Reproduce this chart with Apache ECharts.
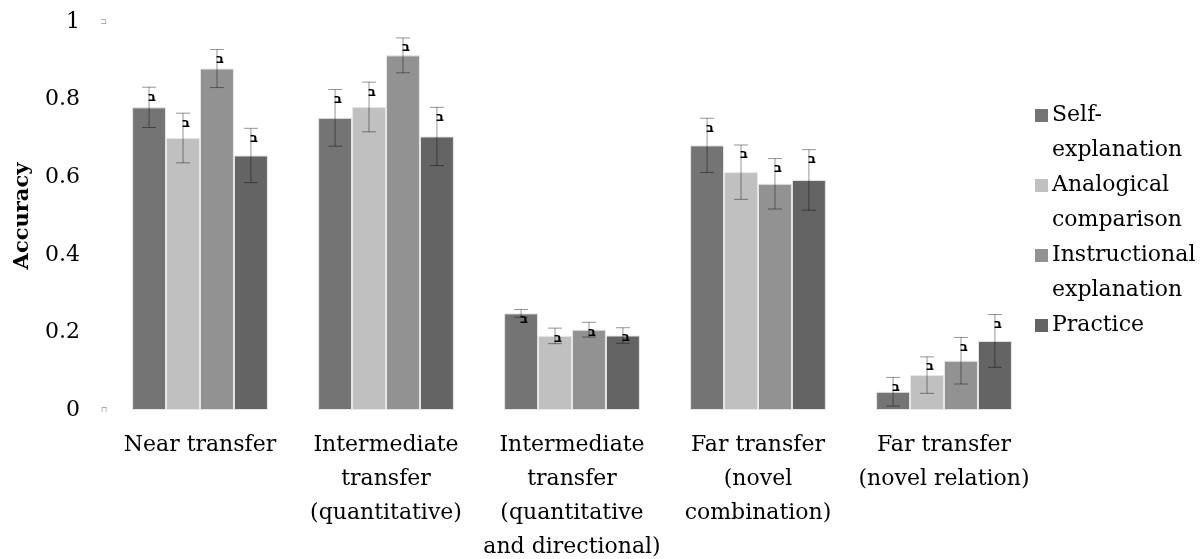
<!DOCTYPE html>
<html>
<head>
<meta charset="utf-8">
<script src="https://cdn.jsdelivr.net/npm/echarts@6/dist/echarts.min.js"></script>
<style>html,body{margin:0;padding:0;background:#fff;}#c{width:1202px;height:559px;}</style>
</head>
<body>
<div id="c"></div>
<script>
const categories = ['Near transfer', 'Intermediate\ntransfer\n(quantitative)', 'Intermediate\ntransfer\n(quantitative\nand directional)', 'Far transfer\n(novel\ncombination)', 'Far transfer\n(novel relation)'];
const seriesNames = ['Self-explanation', 'Analogical comparison', 'Instructional explanation', 'Practice'];
const legendLabels = ['Self-\nexplanation', 'Analogical\ncomparison', 'Instructional\nexplanation', 'Practice'];
const selfExplanation = [0.780, 0.753, 0.249, 0.682, 0.047];
const selfExplanationErr = [0.052, 0.073, 0.010, 0.070, 0.037];
const analogical = [0.701, 0.781, 0.191, 0.613, 0.090];
const analogicalErr = [0.064, 0.064, 0.020, 0.070, 0.047];
const instructional = [0.880, 0.914, 0.207, 0.583, 0.127];
const instructionalErr = [0.049, 0.045, 0.019, 0.065, 0.060];
const practice = [0.656, 0.705, 0.192, 0.593, 0.178];
const practiceErr = [0.070, 0.075, 0.020, 0.078, 0.068];
const barMark = 'ב';

const values = [selfExplanation, analogical, instructional, practice];
const errors = [selfExplanationErr, analogicalErr, instructionalErr, practiceErr];
const colors = ['#747474', '#c0c0c0', '#929292', '#646464'];
const FONT = 'DejaVu Serif';
const FS = 22;
const GAP = 0.27;

const chart = echarts.init(document.getElementById('c'));

const series = [];
values.forEach((vals, i) => {
  series.push({
    name: seriesNames[i],
    type: 'bar',
    data: vals,
    barGap: '0%',
    barCategoryGap: (GAP * 100) + '%',
    itemStyle: { color: colors[i], borderColor: '#e6e6e6', borderWidth: 1 },
    z: 2
  });
});
values.forEach((vals, i) => {
  series.push({
    name: seriesNames[i] + ' error',
    type: 'custom',
    z: 5,
    data: vals.map((v, k) => [k, v - errors[i][k], v + errors[i][k], v]),
    renderItem: function (params, api) {
      const cat = api.value(0);
      const band = api.size([1, 0])[0];
      const bw = band * (1 - GAP) / 4;
      const base = api.coord([cat, api.value(3)]);
      const x = base[0] + (i - 1.5) * bw;
      const lo = api.coord([cat, api.value(1)])[1];
      const hi = api.coord([cat, api.value(2)])[1];
      const cap = 7;
      const st = { stroke: 'rgba(0,0,0,0.42)', lineWidth: 1 };
      return {
        type: 'group',
        children: [
          { type: 'line', shape: { x1: x, y1: lo, x2: x, y2: hi }, style: st },
          { type: 'line', shape: { x1: x - cap, y1: lo, x2: x + cap, y2: lo }, style: st },
          { type: 'line', shape: { x1: x - cap, y1: hi, x2: x + cap, y2: hi }, style: st },
          { type: 'text', x: x + 3, y: hi + 10, style: { text: barMark, fill: '#000', font: 'bold 13px "DejaVu Sans"', align: 'center', verticalAlign: 'middle' } }
        ]
      };
    }
  });
});

chart.setOption({
  animation: false,
  backgroundColor: '#fff',
  grid: { left: 107, right: 165, top: 22, bottom: 149, containLabel: false, outerBoundsMode: 'none' },
  xAxis: {
    type: 'category',
    data: categories,
    axisLine: { show: false },
    axisTick: { show: false },
    axisLabel: { interval: 0, margin: 18, fontFamily: FONT, fontSize: FS, lineHeight: 34, color: '#000' }
  },
  yAxis: {
    type: 'value',
    min: 0, max: 1, interval: 0.2,
    name: 'Accuracy',
    nameLocation: 'middle',
    nameGap: 74,
    nameTextStyle: { fontFamily: FONT, fontSize: 21, fontWeight: 'bold', color: '#000' },
    axisLine: { show: false },
    axisTick: { show: false },
    splitLine: { show: false },
    axisLabel: {
      margin: 0,
      formatter: function (v) {
        const t = String(Math.round(v * 10) / 10);
        if (v === 1) return '{v|' + t + '}{g|⊐}';
        if (v === 0) return '{v|' + t + '}{g|⊓}';
        return '{v|' + t + '}{s|}';
      },
      rich: {
        v: { fontFamily: FONT, fontSize: FS, color: '#000' },
        g: { width: 27, align: 'right', fontSize: 8, color: '#999', fontFamily: 'DejaVu Sans' },
        s: { width: 27 }
      }
    }
  },
  legend: {
    orient: 'vertical',
    left: 1030,
    top: 93,
    itemGap: 0,
    itemWidth: 13,
    itemHeight: 48,
    data: seriesNames.map((n, i) => ({
      name: n,
      icon: legendLabels[i].indexOf('\n') >= 0 ? 'path://M0,0h13v13h-13z M0,47.9h0.1v0.1h-0.1z' : 'path://M0,0h13v13h-13z',
      itemStyle: { color: colors[i], borderWidth: 0 }
    })),
    formatter: function (n) { return legendLabels[seriesNames.indexOf(n)]; },
    textStyle: { fontFamily: FONT, fontSize: FS, lineHeight: 35, color: '#000', padding: [0, 0, 0, -1] }
  },
  series: series
});
</script>
</body>
</html>
